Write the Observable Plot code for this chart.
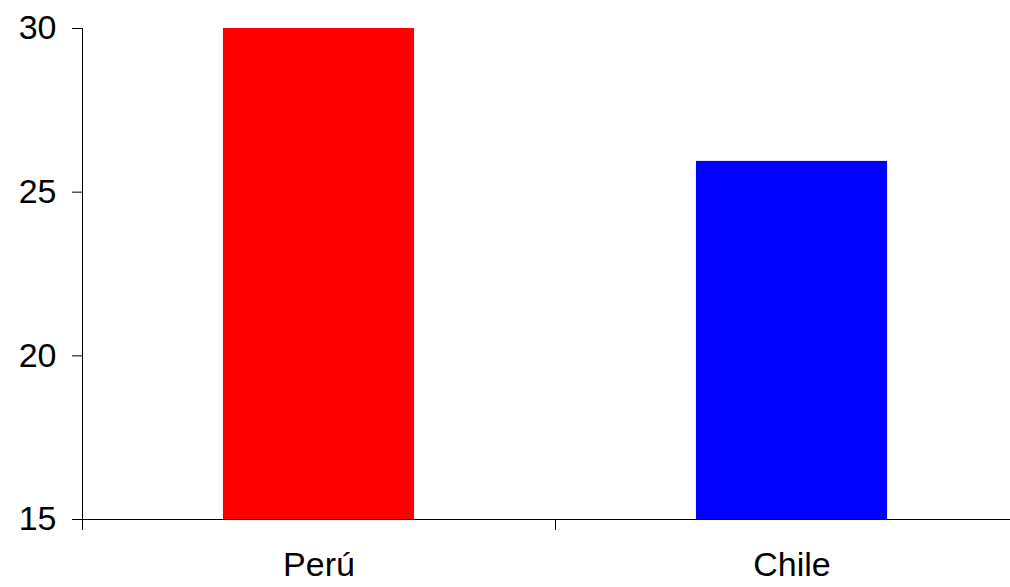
<!DOCTYPE html>
<html><head><meta charset="utf-8">
<script src="https://cdn.jsdelivr.net/npm/d3@7"></script>
<script src="https://cdn.jsdelivr.net/npm/@observablehq/plot@0.6"></script>
<style>body{margin:0;background:#fff}</style>
</head><body><div id="chart"></div>
<script>
const categories = ["Perú", "Chile"];
const values = [30, 25.94];
const colors = ["#ff0000", "#0000ff"];
const yTicks = [15, 20, 25, 30];

const data = categories.map((c, i) => ({category: c, index: i, value: values[i]}));
const barHalf = 0.202;
const chart = Plot.plot({
  width: 1010, height: 587,
  marginTop: 28, marginBottom: 68, marginLeft: 82, marginRight: 0,
  style: {fontFamily: "'Liberation Sans', Arial, sans-serif", fontSize: "34px", color: "#000", background: "#fff"},
  x: {type: "linear", domain: [0, categories.length], range: [82, 1028], axis: null},
  y: {domain: [15, 30], axis: null},
  color: {domain: categories, range: colors},
  marks: [
    Plot.rectY(data, {x1: d => d.index + 0.5 - barHalf, x2: d => d.index + 0.5 + barHalf, y1: 15, y2: "value", fill: "category"}),
    Plot.axisY(yTicks, {label: null, tickSize: 10, tickPadding: 16, tickFormat: d => d, fontSize: 34, stroke: "#000"}),
    Plot.axisX(d3.range(categories.length + 1), {label: null, tickSize: 11, tickFormat: () => "", stroke: "#000"}),
    Plot.axisX(categories.map((c, i) => i + 0.5), {label: null, tickSize: 0, tickPadding: 32, fontSize: 34, tickFormat: d => categories[Math.floor(d)]}),
    Plot.ruleY([15], {stroke: "#000"}),
    Plot.ruleX([0], {stroke: "#000"})
  ]
});
document.getElementById("chart").appendChild(chart);
</script>
</body></html>
